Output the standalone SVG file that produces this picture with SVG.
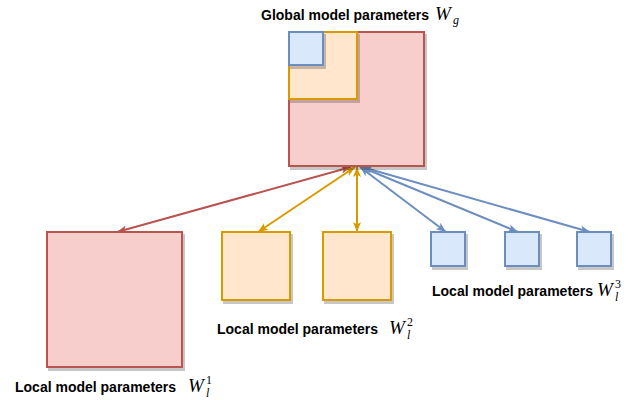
<svg xmlns="http://www.w3.org/2000/svg" width="638" height="400" viewBox="0 0 638 400">
<style>
.red{fill:#f8cecc;stroke:#b85450;stroke-width:2}
.org{fill:#ffe6cc;stroke:#d79b00;stroke-width:2}
.blu{fill:#dae8fc;stroke:#6c8ebf;stroke-width:2}
.sh{filter:url(#shadow)}
.lbl{font-family:"Liberation Sans",Arial,sans-serif;font-weight:bold;font-size:14px;fill:#000}
.m{font-family:"Liberation Serif","Times New Roman",serif;font-weight:normal;font-style:italic;font-size:19px}
.ms{font-family:"Liberation Serif","Times New Roman",serif;font-weight:normal;font-style:normal;font-size:12px}
.msi{font-family:"Liberation Serif","Times New Roman",serif;font-weight:normal;font-style:italic;font-size:12px}
.cr{stroke:#b85450;stroke-width:2;fill:none}
.co{stroke:#d79b00;stroke-width:2;fill:none}
.cb{stroke:#6c8ebf;stroke-width:2;fill:none}
</style>
<defs>
<filter id="shadow" x="-10%" y="-10%" width="130%" height="130%">
<feDropShadow dx="2" dy="3" stdDeviation="0.6" flood-color="#000" flood-opacity="0.22"/>
</filter>
<marker id="ar" markerUnits="userSpaceOnUse" markerWidth="12" markerHeight="10" refX="10" refY="4" orient="auto-start-reverse" viewBox="0 0 12 8"><path d="M0,0 L10,4 L0,8 L2.5,4 Z" fill="#b85450"/></marker>
<marker id="ao" markerUnits="userSpaceOnUse" markerWidth="12" markerHeight="10" refX="10" refY="4" orient="auto-start-reverse" viewBox="0 0 12 8"><path d="M0,0 L10,4 L0,8 L2.5,4 Z" fill="#d79b00"/></marker>
<marker id="ab" markerUnits="userSpaceOnUse" markerWidth="12" markerHeight="10" refX="10" refY="4" orient="auto-start-reverse" viewBox="0 0 12 8"><path d="M0,0 L10,4 L0,8 L2.5,4 Z" fill="#6c8ebf"/></marker>
</defs>

<g id="connectors">
<line class="cr" x1="351" y1="167" x2="117" y2="232" marker-start="url(#ar)" marker-end="url(#ar)"/>
<line class="co" x1="355" y1="167" x2="258" y2="232" marker-start="url(#ao)" marker-end="url(#ao)"/>
<line class="co" x1="357" y1="167" x2="357" y2="232" marker-start="url(#ao)" marker-end="url(#ao)"/>
<line class="cb" x1="360" y1="167" x2="446" y2="232" marker-start="url(#ab)" marker-end="url(#ab)"/>
<line class="cb" x1="361" y1="167" x2="518" y2="232" marker-start="url(#ab)" marker-end="url(#ab)"/>
<line class="cb" x1="362" y1="167" x2="590" y2="232" marker-start="url(#ab)" marker-end="url(#ab)"/>
</g>

<g id="global">
<rect class="red sh" x="289" y="32" width="135" height="134"/>
<rect class="org sh" x="289" y="32" width="68" height="67"/>
<rect class="blu sh" x="289" y="32" width="34" height="33"/>
<text class="lbl" x="261" y="20">Global model parameters<tspan class="m" x="435" y="20">W</tspan><tspan class="msi" x="453" y="24">g</tspan></text>
</g>

<g id="local1">
<rect class="red sh" x="47" y="232" width="135" height="135"/>
<text class="lbl" x="15" y="392">Local model parameters<tspan class="m" x="188" y="392">W</tspan><tspan class="ms" x="206" y="384">1</tspan><tspan class="msi" x="206" y="397">l</tspan></text>
</g>

<g id="local2">
<rect class="org sh" x="222" y="232" width="68" height="68"/>
<rect class="org sh" x="323" y="232" width="68" height="68"/>
<text class="lbl" x="217" y="334">Local model parameters<tspan class="m" x="389" y="334">W</tspan><tspan class="ms" x="407" y="326">2</tspan><tspan class="msi" x="407" y="339">l</tspan></text>
</g>

<g id="local3">
<rect class="blu sh" x="431" y="232" width="34" height="34"/>
<rect class="blu sh" x="505" y="232" width="34" height="34"/>
<rect class="blu sh" x="577" y="232" width="34" height="34"/>
<text class="lbl" x="432" y="296">Local model parameters<tspan class="m" x="597" y="296">W</tspan><tspan class="ms" x="615" y="288">3</tspan><tspan class="msi" x="615" y="301">l</tspan></text>
</g>
</svg>
